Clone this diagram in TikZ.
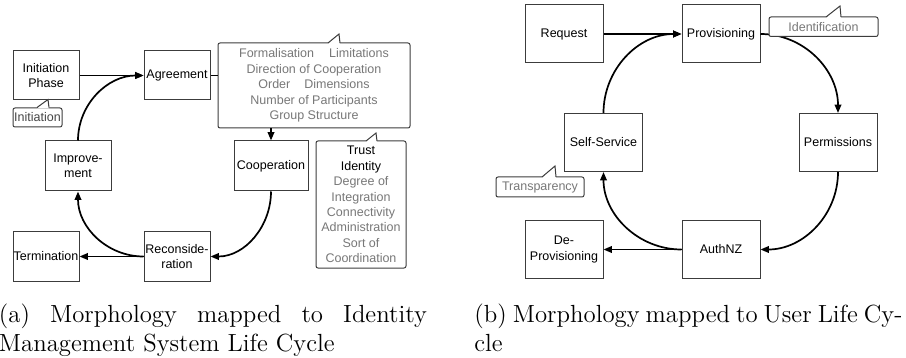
\documentclass[tikz,border=0pt]{standalone}
\usepackage{fontspec}
\newfontfamily\arialf{Liberation Sans}
\usetikzlibrary{arrows.meta,calc}
\definecolor{bordergray}{RGB}{60,60,60}
\definecolor{txtgray}{RGB}{120,120,120}
\definecolor{txtdark}{RGB}{70,70,70}
\newcommand\boxfont{\arialf\fontsize{6.25}{7.6}\selectfont}
\newcommand\callfont{\arialf\fontsize{6.25}{7.7}\selectfont}
\newcommand\capfont{\fontsize{12.4}{14.5}\selectfont}
\begin{document}
\begin{tikzpicture}[x=0.5pt,y=-0.5pt,
  box/.style={draw=bordergray, line width=0.5pt, fill=white, inner sep=0pt, align=center, font=\boxfont, text=black},
  lbox/.style={box, minimum width=33pt, minimum height=24.5pt},
  rbox/.style={box, minimum width=39pt, minimum height=29pt},
  callout/.style={draw=bordergray, line width=0.5pt, fill=white, rounded corners=1pt, inner sep=0pt, align=center, font=\callfont, text=txtgray},
  ptr/.style={draw=bordergray, line width=0.5pt},
  conn/.style={line width=0.85pt, draw=black},
  arr/.style={conn, -{Triangle[length=4.2pt,width=3.3pt]}},
  captext/.style={anchor=base west, inner sep=0pt, font=\capfont},
]
\useasboundingbox (0,0) rectangle (906,358);

% ---------- (a) ----------
\node[lbox] (initphase) at (46,75.5) {Initiation\\Phase};
\node[lbox] (agreement) at (177,75.5) {Agreement};
\node[lbox, minimum height=25pt] (improvement) at (78,166) {Improve-\\ment};
\node[box, minimum width=37pt, minimum height=25pt] (cooperation) at (271,166) {Cooperation};
\node[lbox] (reconsid) at (177,256.5) {Reconside-\\ration};
\node[lbox] (termination) at (46,256.5) {Termination};

\draw[arr] (initphase.east) -- (agreement.west);
\draw[arr] (improvement.north) to[out=90,in=180] (agreement.west);
\draw[arr] (cooperation.south) to[out=-90,in=0] (reconsid.east);
\draw[arr] (reconsid.west) -- (termination.east);
\draw[arr] (reconsid.west) to[out=180,in=-90] (improvement.south);

\node[callout, minimum width=96pt, minimum height=42.5pt] (morph) at (314,85.5)
  {Formalisation\hspace{7.5pt}Limitations\\Direction of Cooperation\\Order\hspace{7pt}Dimensions\\Number of Participants\\Group Structure};
\coordinate (morphtip) at (339,34);
\fill[white] (328,43.8) -- (morphtip) -- (340,43.8) -- cycle;
\draw[ptr] (328,43) -- (morphtip) -- (340,43);
\draw[conn] (agreement.east) -- (agreement.east -| morph.west);
\draw[arr] (cooperation.north |- morph.south) -- (cooperation.north);

\node[callout, minimum width=45pt, minimum height=63.5pt] (trust) at (361,204.5)
  {\textcolor{black}{Trust}\\\textcolor{black}{Identity}\\Degree of\\Integration\\Connectivity\\Administration\\Sort of\\Coordination};
\coordinate (trusttip) at (376,133);
\fill[white] (366,141.8) -- (trusttip) -- (377,141.8) -- cycle;
\draw[ptr] (366,141) -- (trusttip) -- (377,141);

\node[callout, text=txtdark, minimum width=24.5pt, minimum height=9.5pt] (initcall) at (37.5,117.5) {Initiation};
\coordinate (inittip) at (48,99.5);
\fill[white] (37,108.3) -- (inittip) -- (49,108.3) -- cycle;
\draw[ptr] (37,107.5) -- (inittip) -- (49,107.5);

% ---------- (b) ----------
\node[rbox] (request) at (564,34) {Request};
\node[rbox] (provisioning) at (721,34) {Provisioning};
\node[rbox] (permissions) at (838,142.5) {Permissions};
\node[rbox] (selfservice) at (603.5,142.5) {Self-Service};
\node[rbox] (deprov) at (564,249.5) {De-\\Provisioning};
\node[rbox] (authnz) at (721,249.5) {AuthNZ};

\draw[arr] (request.east) -- (provisioning.west);
\draw[arr] (selfservice.north) to[out=90,in=180] (provisioning.west);
\draw[arr] (provisioning.east) to[out=0,in=90] (permissions.north);
\draw[arr] (permissions.south) to[out=-90,in=0] (authnz.east);
\draw[arr] (authnz.west) -- (deprov.east);
\draw[arr] (authnz.west) to[out=180,in=-90] (selfservice.south);

\node[callout, minimum width=54.5pt, minimum height=9.75pt] (ident) at (823.5,26.75) {Identification};
\coordinate (identtip) at (840,6);
\fill[white] (826,17.8) -- (identtip) -- (841,17.8) -- cycle;
\draw[ptr] (826,17) -- (identtip) -- (841,17);

\node[callout, minimum width=44pt, minimum height=10pt] (transp) at (540,187) {Transparency};
\coordinate (transptip) at (555,166);
\fill[white] (542,177.8) -- (transptip) -- (556,177.8) -- cycle;
\draw[ptr] (542,177) -- (transptip) -- (556,177);

% ---------- captions ----------
\node[captext] (capa1) at (-1.5,322) {\makebox[214pt][s]{(a) Morphology mapped to Identity}};
\node[captext] (capa2) at (-1.5,351) {Management System Life Cycle};
\node[captext] (capb1) at (474,322) {\makebox[214pt][s]{(b) Morphology mapped to User Life Cy-}};
\node[captext] (capb2) at (474,351) {cle};
\end{tikzpicture}
\end{document}
